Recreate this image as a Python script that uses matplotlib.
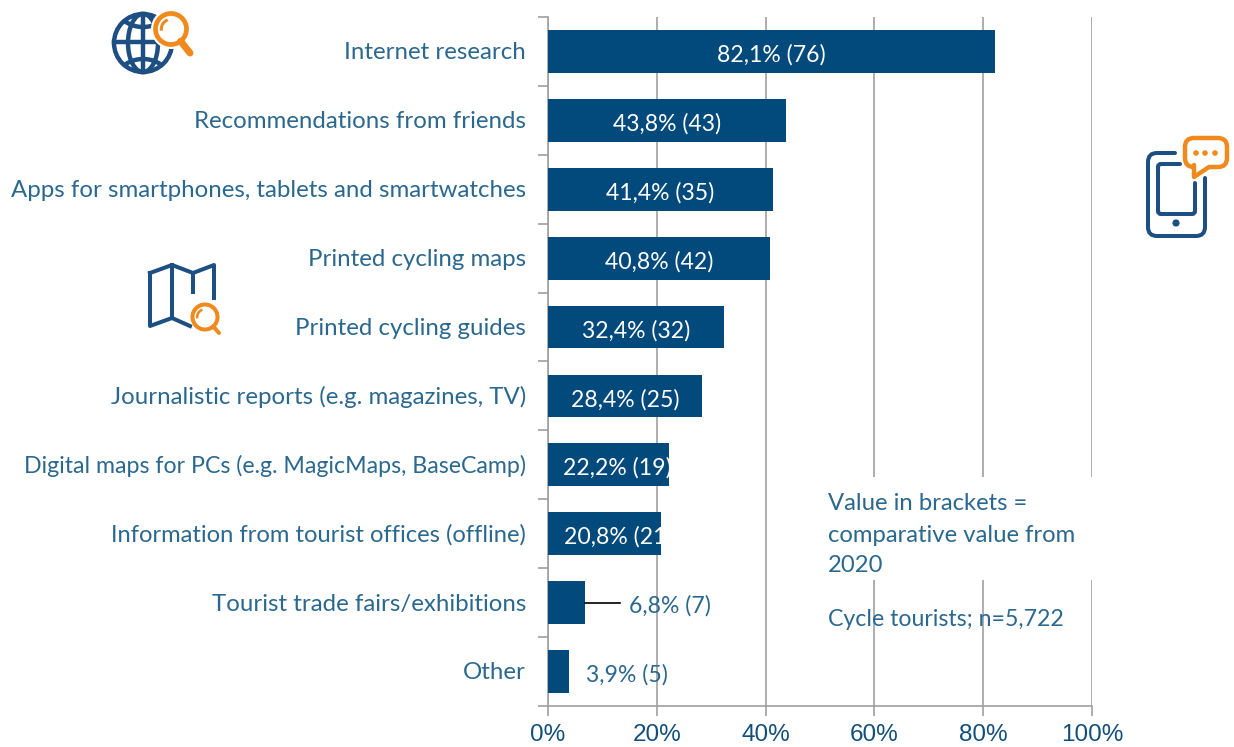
import matplotlib
matplotlib.use('Agg')
import numpy as np
import matplotlib.pyplot as plt
from matplotlib.patches import Circle, Arc, Rectangle, PathPatch
from matplotlib.path import Path

categories = ['Internet research', 'Recommendations from friends',
              'Apps for smartphones, tablets and smartwatches', 'Printed cycling maps',
              'Printed cycling guides', 'Journalistic reports (e.g. magazines, TV)',
              'Digital maps for PCs (e.g. MagicMaps, BaseCamp)',
              'Information from tourist offices (offline)',
              'Tourist trade fairs/exhibitions', 'Other']
values = [82.1, 43.8, 41.4, 40.8, 32.4, 28.4, 22.2, 20.8, 6.8, 3.9]
previous = [76, 43, 35, 42, 32, 25, 19, 21, 7, 5]
label_x = [41, 21.9, 20.7, 20.4, 16.2, 14.2, 12.8, 12.9, 22.5, 14.5]
cat_size = [17.3, 17.3, 17.3, 17.3, 17.3, 17.3, 16.7, 17.1, 17.3, 17.3]
xticks = [0, 20, 40, 60, 80, 100]

BAR = '#034a7c'
TEXT = '#2a688f'
TICK = '#134f7d'
GRID = '#a0a0a0'
BLUE = '#1d4f82'
ORANGE = '#f08a1d'
W, H = 1234, 747

plt.rcParams['font.family'] = ['Lato', 'DejaVu Sans']

fig = plt.figure(figsize=(W / 100, H / 100), dpi=100)
ax = fig.add_axes([548 / W, 1 - 706 / H, 544 / W, 689 / H])

y = np.arange(len(categories))
ax.barh(y, values, height=0.62, color=BAR, zorder=3)
ax.set_ylim(len(categories) - 0.5, -0.5)
ax.set_xlim(0, 100)

ax.set_xticks(xticks)
ax.set_xticklabels([f'{t}%' for t in xticks], fontsize=17.5, color=TICK,
                   family='Liberation Sans')
ax.set_yticks(np.arange(len(categories) + 1) - 0.5)
ax.set_yticklabels([])
ax.tick_params(axis='both', length=7, width=1.2, color=GRID)
ax.tick_params(axis='x', pad=6)
ax.grid(axis='x', color=GRID, lw=1.2, zorder=1)
ax.set_axisbelow(True)
for s in ['top', 'right']:
    ax.spines[s].set_visible(False)
for s in ['left', 'bottom']:
    ax.spines[s].set_color(GRID)
    ax.spines[s].set_linewidth(1.2)

for i, c in enumerate(categories):
    ax.annotate(c, (0, i + 0.02), xytext=(-22, 0), textcoords='offset pixels', ha='right',
                va='center', fontsize=cat_size[i], color=TEXT, zorder=5)

for i, (v, p) in enumerate(zip(values, previous)):
    label = f'{v:.1f}% ({p})'.replace('.', ',')
    color = 'white' if v > 10 else TEXT
    ax.text(label_x[i], i + 0.05, label, ha='center', va='center', fontsize=16.6,
            color=color, zorder=5)
ax.plot([values[8], 13.3], [8, 8], color='black', lw=1.2, zorder=4)

# overlay in pixel coordinates for note box and icons
ov = fig.add_axes([0, 0, 1, 1], facecolor='none')
ov.set_xlim(0, W)
ov.set_ylim(H, 0)
ov.axis('off')

ov.add_patch(Rectangle((815, 477), 290, 103, fc='white', ec='none'))
for yy, t, fs in [(504, 'Value in brackets =', 17.2), (535, 'comparative value from', 17.2),
                  (566, '2020', 17.2), (619, 'Cycle tourists; n=5,722', 16.7)]:
    ov.text(828, yy, t, fontsize=fs, color=TEXT, va='center', ha='left')


def rounded(pts, r, color, lw, fc='none', z=4):
    # polyline with rounded corners
    pts = [np.array(p, float) for p in pts]
    verts, codes = [pts[0]], [Path.MOVETO]
    for a, b, c in zip(pts[:-2], pts[1:-1], pts[2:]):
        u = (a - b) / np.linalg.norm(a - b)
        w = (c - b) / np.linalg.norm(c - b)
        verts += [b + u * r, b, b + w * r]
        codes += [Path.LINETO, Path.CURVE3, Path.CURVE3]
    verts.append(pts[-1])
    codes.append(Path.LINETO)
    ov.add_patch(PathPatch(Path(verts, codes), fc=fc, ec=color, lw=lw, zorder=z,
                           capstyle='round'))


def magnifier(cx, cy, r, ex, ey, lw, hlw, mask, z):
    ov.add_patch(Circle((cx, cy), mask, fc='white', ec='none', zorder=z))
    ov.add_patch(Circle((cx, cy), r, fc='white', ec=ORANGE, lw=lw, zorder=z + 1))
    d = np.hypot(ex - cx, ey - cy)
    ov.plot([cx + (ex - cx) / d * r, ex], [cy + (ey - cy) / d * r, ey], color=ORANGE, lw=hlw,
            zorder=z + 1, solid_capstyle='round')
    ov.add_patch(Arc((cx, cy), r * 1.25, r * 1.25, theta1=170, theta2=250, ec=ORANGE,
                     lw=lw * 0.65, zorder=z + 1))


# globe
g = 3.2
ov.add_patch(Circle((143, 43), 29, fc='none', ec=BLUE, lw=g, zorder=3))
ov.add_patch(Arc((143, 43), 30, 58, ec=BLUE, lw=g, zorder=3))
ov.plot([143, 143], [14, 72], color=BLUE, lw=g, zorder=3)
ov.plot([114, 172], [42, 42], color=BLUE, lw=g, zorder=3)
clip = Circle((143, 43), 29, transform=ov.transData)
for cy, t1, t2 in [(3, 25, 155), (83, 205, 335)]:
    a = Arc((143, cy), 56, 48, theta1=t1, theta2=t2, ec=BLUE, lw=g, zorder=3)
    ov.add_patch(a)
    a.set_clip_path(clip)
magnifier(171, 29, 15.5, 190, 53, 3.4, 5, 20, 5)

# map
m = 2.9
ov.plot([193, 193], [273, 292], color=BLUE, lw=m, zorder=3)
ov.plot([172, 172], [265, 318], color=BLUE, lw=m, zorder=3)
ov.plot([150, 172, 193, 214, 214], [273, 265, 273, 265, 298], color=BLUE, lw=m, zorder=3,
        solid_joinstyle='round')
ov.plot([150, 150, 172, 190], [273, 326, 318, 326], color=BLUE, lw=m, zorder=3,
        solid_joinstyle='round')
magnifier(205, 317, 12.5, 219, 333, 2.9, 2.9, 15, 5)

# phone
rounded([(1175, 153), (1148, 153), (1148, 236), (1205, 236), (1205, 178)], 9, BLUE, m)
rounded([(1180, 164), (1158, 164), (1158, 214), (1195, 214), (1195, 183)], 3, BLUE, m)
ov.add_patch(Circle((1176, 223), 3.6, fc=BLUE, ec='none', zorder=4))

# speech bubble
rounded([(1195, 167), (1185, 167), (1185, 138), (1227, 138), (1227, 167), (1209, 167)], 9,
        ORANGE, 3.2, fc='white', z=5)
ov.add_patch(Rectangle((1195, 164), 13, 4.5, fc='white', ec='none', zorder=6))
ov.plot([1194, 1194, 1209], [165, 177, 167], color=ORANGE, lw=3.2, zorder=7,
        solid_joinstyle='round', solid_capstyle='round')
for xx in [1196, 1205, 1215]:
    ov.add_patch(Circle((xx, 153), 2.8, fc=ORANGE, ec='none', zorder=7))

fig.savefig('out.png', dpi=100)
